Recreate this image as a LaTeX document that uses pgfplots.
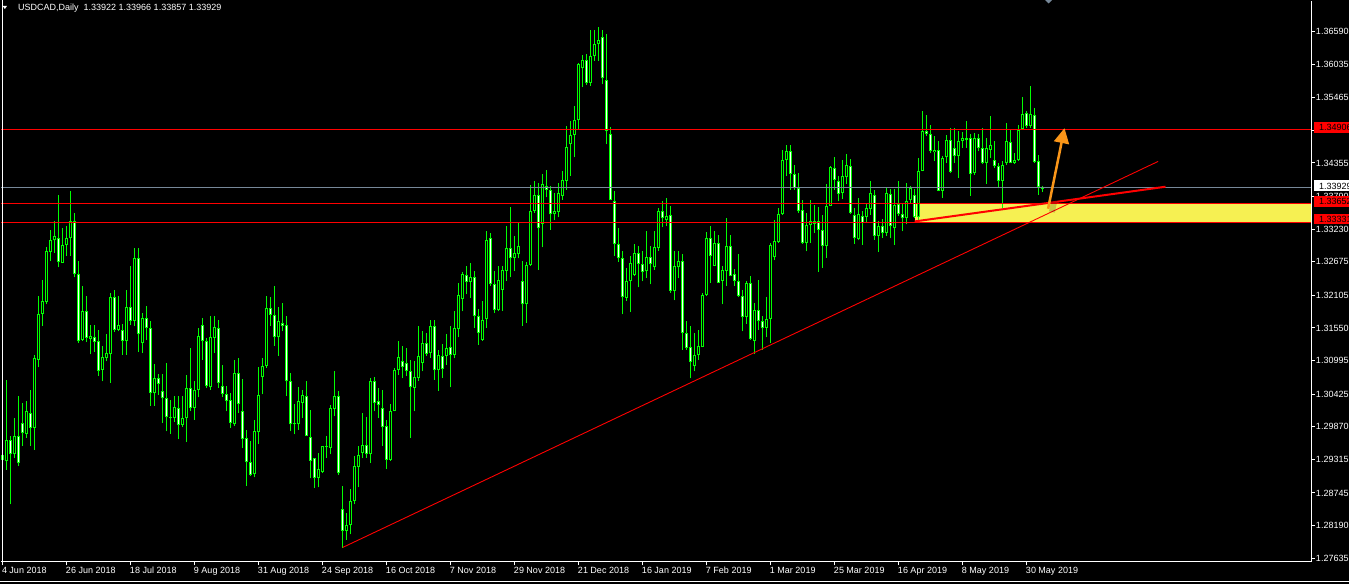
\documentclass[border=0pt]{standalone}
\usepackage{fontspec}
\setmainfont{Liberation Sans}
\usepackage{pgfplots}
\pgfplotsset{compat=1.18}
\usepackage{pgfplotstable}
\usetikzlibrary{arrows.meta}
\definecolor{candle}{RGB}{0,255,0}
\definecolor{slate}{RGB}{119,136,153}
\definecolor{band}{RGB}{246,240,82}
\definecolor{arrowc}{RGB}{250,150,25}

\pgfplotstableread{
i o h l c
1 1.2939 1.2965 1.2900 1.2931
2 1.2928 1.3067 1.2914 1.2965
3 1.2965 1.2971 1.2855 1.2940
4 1.2940 1.3001 1.2934 1.2971
5 1.2971 1.3039 1.2920 1.2925
6 1.2994 1.3027 1.2954 1.2976
7 1.2975 1.3030 1.2968 1.3013
8 1.3011 1.3050 1.2954 1.2985
9 1.2985 1.3109 1.2948 1.3103
10 1.3101 1.3209 1.3088 1.3179
11 1.3179 1.3237 1.3158 1.3200
12 1.3199 1.3292 1.3195 1.3285
13 1.3284 1.3321 1.3268 1.3305
14 1.3304 1.3336 1.3282 1.3312
15 1.3308 1.3381 1.3258 1.3267
16 1.3266 1.3324 1.3265 1.3296
17 1.3296 1.3329 1.3278 1.3307
18 1.3307 1.3387 1.3277 1.3337
19 1.3336 1.3351 1.3241 1.3246
20 1.3247 1.3269 1.3129 1.3132
21 1.3135 1.3226 1.3133 1.3184
22 1.3183 1.3209 1.3131 1.3138
23 1.3136 1.3160 1.3110 1.3141
24 1.3140 1.3160 1.3114 1.3131
25 1.3132 1.3151 1.3074 1.3082
26 1.3084 1.3124 1.3064 1.3105
27 1.3104 1.3145 1.3098 1.3113
28 1.3110 1.3215 1.3062 1.3207
29 1.3207 1.3219 1.3148 1.3152
30 1.3152 1.3209 1.3149 1.3160
31 1.3152 1.3162 1.3109 1.3133
32 1.3132 1.3219 1.3109 1.3190
33 1.3190 1.3260 1.3160 1.3167
34 1.3167 1.3290 1.3158 1.3273
35 1.3273 1.3290 1.3114 1.3144
36 1.3129 1.3180 1.3112 1.3171
37 1.3171 1.3192 1.3134 1.3154
38 1.3154 1.3166 1.3023 1.3044
39 1.3044 1.3093 1.3023 1.3070
40 1.3070 1.3077 1.3041 1.3060
41 1.3048 1.3077 1.2993 1.3035
42 1.3035 1.3096 1.2979 1.3003
43 1.3004 1.3032 1.2975 1.3001
44 1.3001 1.3039 1.2995 1.3021
45 1.3019 1.3039 1.2966 1.2990
46 1.2990 1.3039 1.2986 1.3002
47 1.3001 1.3075 1.2961 1.3052
48 1.3052 1.3120 1.3013 1.3019
49 1.3019 1.3064 1.2999 1.3050
50 1.3050 1.3155 1.3037 1.3142
51 1.3160 1.3172 1.3101 1.3133
52 1.3133 1.3138 1.3053 1.3056
53 1.3054 1.3175 1.3050 1.3140
54 1.3138 1.3175 1.3112 1.3157
55 1.3154 1.3169 1.3053 1.3061
56 1.3057 1.3092 1.3037 1.3043
57 1.3043 1.3057 1.3013 1.3031
58 1.3033 1.3044 1.2985 1.2993
59 1.2991 1.3100 1.2989 1.3079
60 1.3079 1.3103 1.3010 1.3025
61 1.3013 1.3068 1.2951 1.2966
62 1.2967 1.2981 1.2886 1.2927
63 1.2927 1.2962 1.2903 1.2905
64 1.2906 1.2999 1.2901 1.2980
65 1.2978 1.3088 1.2957 1.3041
66 1.3071 1.3103 1.3042 1.3091
67 1.3090 1.3209 1.3087 1.3188
68 1.3188 1.3207 1.3158 1.3177
69 1.3177 1.3226 1.3125 1.3139
70 1.3139 1.3190 1.3108 1.3166
71 1.3163 1.3198 1.3149 1.3159
72 1.3160 1.3175 1.3040 1.3064
73 1.3064 1.3078 1.2979 1.2991
74 1.2991 1.3025 1.2974 1.2993
75 1.2991 1.3054 1.2982 1.3031
76 1.3028 1.3049 1.3002 1.3041
77 1.3040 1.3064 1.2971 1.2972
78 1.2970 1.3015 1.2899 1.2929
79 1.2933 1.2933 1.2883 1.2900
80 1.2900 1.2942 1.2884 1.2915
81 1.2910 1.2955 1.2908 1.2955
82 1.2955 1.2972 1.2934 1.2952
83 1.2951 1.3024 1.2940 1.3018
84 1.3017 1.3081 1.3005 1.3040
85 1.3040 1.3047 1.2905 1.2908
86 1.2848 1.2887 1.2781 1.2810
87 1.2810 1.2840 1.2795 1.2820
88 1.2820 1.2882 1.2804 1.2861
89 1.2861 1.2937 1.2855 1.2920
90 1.2919 1.2955 1.2884 1.2939
91 1.2942 1.3010 1.2933 1.2956
92 1.2956 1.3003 1.2934 1.2940
93 1.2940 1.3070 1.2925 1.3065
94 1.3064 1.3071 1.3013 1.3027
95 1.3030 1.3052 1.3002 1.3024
96 1.3018 1.3050 1.2954 1.2986
97 1.2988 1.2998 1.2915 1.2931
98 1.2931 1.3025 1.2929 1.3014
99 1.3014 1.3087 1.3013 1.3084
100 1.3084 1.3132 1.3075 1.3105
101 1.3099 1.3125 1.3069 1.3088
102 1.3096 1.3121 1.3074 1.3082
103 1.3082 1.3101 1.2968 1.3054
104 1.3053 1.3098 1.3013 1.3071
105 1.3070 1.3159 1.3065 1.3107
106 1.3095 1.3149 1.3081 1.3130
107 1.3130 1.3147 1.3107 1.3111
108 1.3112 1.3169 1.3104 1.3159
109 1.3159 1.3169 1.3067 1.3083
110 1.3083 1.3117 1.3048 1.3109
111 1.3108 1.3128 1.3070 1.3085
112 1.3108 1.3144 1.3092 1.3120
113 1.3122 1.3159 1.3054 1.3109
114 1.3109 1.3183 1.3103 1.3154
115 1.3153 1.3232 1.3139 1.3211
116 1.3204 1.3250 1.3183 1.3247
117 1.3245 1.3261 1.3212 1.3233
118 1.3233 1.3265 1.3206 1.3241
119 1.3241 1.3251 1.3155 1.3175
120 1.3176 1.3187 1.3126 1.3146
121 1.3135 1.3201 1.3133 1.3169
122 1.3170 1.3319 1.3155 1.3305
123 1.3307 1.3316 1.3227 1.3229
124 1.3230 1.3251 1.3180 1.3185
125 1.3185 1.3260 1.3183 1.3237
126 1.3220 1.3261 1.3184 1.3253
127 1.3252 1.3329 1.3235 1.3290
128 1.3290 1.3360 1.3241 1.3273
129 1.3273 1.3312 1.3252 1.3282
130 1.3280 1.3333 1.3273 1.3295
131 1.3235 1.3268 1.3159 1.3195
132 1.3195 1.3267 1.3163 1.3262
133 1.3262 1.3398 1.3261 1.3354
134 1.3354 1.3404 1.3351 1.3381
135 1.3381 1.3401 1.3254 1.3324
136 1.3332 1.3417 1.3292 1.3400
137 1.3396 1.3424 1.3377 1.3390
138 1.3390 1.3397 1.3322 1.3348
139 1.3348 1.3384 1.3338 1.3353
140 1.3352 1.3401 1.3343 1.3384
141 1.3380 1.3421 1.3373 1.3407
142 1.3405 1.3498 1.3390 1.3462
143 1.3467 1.3507 1.3414 1.3483
144 1.3483 1.3532 1.3445 1.3509
145 1.3508 1.3605 1.3492 1.3603
146 1.3596 1.3619 1.3564 1.3611
147 1.3611 1.3620 1.3568 1.3571
148 1.3572 1.3662 1.3566 1.3618
149 1.3618 1.3662 1.3609 1.3638
150 1.3637 1.3666 1.3609 1.3645
151 1.3649 1.3662 1.3569 1.3579
152 1.3577 1.3655 1.3467 1.3489
153 1.3485 1.3496 1.3372 1.3373
154 1.3370 1.3388 1.3277 1.3297
155 1.3298 1.3324 1.3267 1.3273
156 1.3273 1.3285 1.3178 1.3207
157 1.3206 1.3257 1.3201 1.3235
158 1.3235 1.3278 1.3182 1.3266
159 1.3245 1.3298 1.3244 1.3283
160 1.3283 1.3294 1.3224 1.3264
161 1.3264 1.3285 1.3234 1.3250
162 1.3251 1.3319 1.3240 1.3276
163 1.3276 1.3294 1.3229 1.3263
164 1.3258 1.3319 1.3254 1.3293
165 1.3291 1.3359 1.3286 1.3353
166 1.3353 1.3371 1.3326 1.3342
167 1.3338 1.3375 1.3328 1.3346
168 1.3347 1.3362 1.3214 1.3218
169 1.3218 1.3286 1.3202 1.3261
170 1.3258 1.3285 1.3240 1.3268
171 1.3268 1.3281 1.3118 1.3146
172 1.3147 1.3166 1.3118 1.3121
173 1.3122 1.3158 1.3069 1.3097
174 1.3090 1.3146 1.3081 1.3109
175 1.3109 1.3152 1.3101 1.3125
176 1.3122 1.3215 1.3122 1.3211
177 1.3211 1.3318 1.3210 1.3307
178 1.3307 1.3329 1.3231 1.3277
179 1.3261 1.3319 1.3260 1.3300
180 1.3300 1.3313 1.3231 1.3232
181 1.3235 1.3260 1.3195 1.3254
182 1.3252 1.3341 1.3227 1.3294
183 1.3294 1.3313 1.3243 1.3244
184 1.3247 1.3255 1.3227 1.3235
185 1.3235 1.3281 1.3207 1.3210
186 1.3210 1.3219 1.3149 1.3173
187 1.3173 1.3234 1.3162 1.3231
188 1.3231 1.3243 1.3135 1.3136
189 1.3133 1.3197 1.3111 1.3186
190 1.3186 1.3236 1.3152 1.3167
191 1.3167 1.3176 1.3118 1.3155
192 1.3155 1.3207 1.3139 1.3170
193 1.3170 1.3299 1.3129 1.3296
194 1.3275 1.3338 1.3270 1.3303
195 1.3301 1.3359 1.3300 1.3349
196 1.3348 1.3457 1.3347 1.3441
197 1.3441 1.3466 1.3413 1.3455
198 1.3455 1.3466 1.3390 1.3417
199 1.3417 1.3432 1.3390 1.3393
200 1.3393 1.3418 1.3350 1.3353
201 1.3355 1.3372 1.3298 1.3299
202 1.3299 1.3351 1.3285 1.3330
203 1.3330 1.3372 1.3299 1.3337
204 1.3337 1.3364 1.3316 1.3332
205 1.3337 1.3360 1.3250 1.3322
206 1.3322 1.3347 1.3257 1.3295
207 1.3294 1.3400 1.3274 1.3363
208 1.3363 1.3430 1.3362 1.3428
209 1.3426 1.3445 1.3390 1.3407
210 1.3405 1.3413 1.3370 1.3383
211 1.3385 1.3440 1.3374 1.3413
212 1.3411 1.3451 1.3400 1.3432
213 1.3431 1.3442 1.3349 1.3350
214 1.3347 1.3359 1.3298 1.3307
215 1.3306 1.3375 1.3304 1.3349
216 1.3345 1.3353 1.3296 1.3334
217 1.3343 1.3368 1.3333 1.3358
218 1.3357 1.3404 1.3347 1.3384
219 1.3381 1.3389 1.3305 1.3312
220 1.3312 1.3336 1.3284 1.3329
221 1.3329 1.3340 1.3308 1.3316
222 1.3316 1.3394 1.3312 1.3384
223 1.3383 1.3391 1.3307 1.3329
224 1.3324 1.3391 1.3296 1.3364
225 1.3365 1.3404 1.3346 1.3349
226 1.3349 1.3365 1.3319 1.3341
227 1.3341 1.3401 1.3331 1.3371
228 1.3372 1.3396 1.3365 1.3392
229 1.3381 1.3391 1.3342 1.3343
230 1.3343 1.3443 1.3339 1.3422
231 1.3422 1.3523 1.3421 1.3490
232 1.3490 1.3517 1.3481 1.3484
233 1.3485 1.3500 1.3452 1.3455
234 1.3454 1.3481 1.3438 1.3458
235 1.3458 1.3472 1.3387 1.3388
236 1.3388 1.3447 1.3376 1.3444
237 1.3445 1.3483 1.3435 1.3475
238 1.3475 1.3495 1.3418 1.3420
239 1.3460 1.3494 1.3435 1.3447
240 1.3447 1.3489 1.3410 1.3473
241 1.3473 1.3488 1.3461 1.3477
242 1.3477 1.3506 1.3461 1.3474
243 1.3477 1.3484 1.3380 1.3417
244 1.3418 1.3486 1.3415 1.3477
245 1.3477 1.3484 1.3455 1.3461
246 1.3461 1.3495 1.3433 1.3436
247 1.3435 1.3478 1.3400 1.3460
248 1.3458 1.3515 1.3444 1.3466
249 1.3441 1.3472 1.3427 1.3430
250 1.3430 1.3435 1.3394 1.3405
251 1.3405 1.3438 1.3359 1.3432
252 1.3435 1.3503 1.3432 1.3473
253 1.3471 1.3492 1.3435 1.3436
254 1.3435 1.3453 1.3434 1.3441
255 1.3440 1.3500 1.3439 1.3492
256 1.3493 1.3547 1.3492 1.3519
257 1.3520 1.3523 1.3495 1.3498
258 1.3498 1.3566 1.3495 1.3519
259 1.3517 1.3528 1.3435 1.3437
260 1.3438 1.3449 1.3381 1.3394
261 1.33922 1.33966 1.33857 1.33929
}\candles

\begin{document}
\begin{tikzpicture}[x=1pt,y=1pt]
\useasboundingbox (0,0) rectangle (1349,584);
\fill[black] (0,0) rectangle (1349,584);
\begin{axis}[
  at={(2,37.5)}, anchor=south west, scale only axis,
  width=1310.5pt, height=560.5pt,
  xmin=0.625, xmax=328.25, ymin=1.275715, ymax=1.3710,
  axis x line*=bottom, axis y line*=right,
  axis line style={white, line width=1pt, -},
  tick align=outside, major tick length=3.5pt,
  tick style={white, line width=1pt},
  minor tick num=0,
  xtick={1,17,...,257},
  xticklabels={4 Jun 2018, 26 Jun 2018, 18 Jul 2018, 9 Aug 2018, 31 Aug 2018, 24 Sep 2018, 16 Oct 2018, 7 Nov 2018, 29 Nov 2018, 21 Dec 2018, 16 Jan 2019, 7 Feb 2019, 1 Mar 2019, 25 Mar 2019, 16 Apr 2019, 8 May 2019, 30 May 2019},
  ytick={1.36590,1.36035,1.35465,1.34910,1.34355,1.33790,1.33230,1.32675,1.32105,1.31550,1.30995,1.30425,1.29870,1.29315,1.28745,1.28190,1.27635},
  yticklabels={1.36590,1.36035,1.35465,,1.34355,1.33790,1.33230,1.32675,1.32105,1.31550,1.30995,1.30425,1.29870,1.29315,1.28745,1.28190,1.27635},
  every tick label/.append style={font=\fontsize{9}{10}\selectfont, text=white},
  xticklabel style={anchor=base west, inner sep=0pt, xshift=-0.5pt, yshift=-7.9pt},
  yticklabel style={anchor=west, inner sep=0pt, xshift=1pt},
  clip=false,
]
% yellow zone
\addplot[fill=band, draw=none, forget plot] coordinates {(229.25,1.33345) (328.25,1.33345) (328.25,1.33661) (229.25,1.33661)} -- cycle;
% wicks
\addplot[draw=none, mark=none, forget plot,
  error bars/.cd, y dir=plus, y explicit, error mark=none,
  error bar style={line width=1pt, draw=candle}]
  table[x=i, y=l, y error plus expr=\thisrow{h}-\thisrow{l}] {\candles};
% bodies
\addplot[draw=none, mark=none, forget plot,
  error bars/.cd, y dir=plus, y explicit, error mark=none,
  error bar style={line width=3pt, draw=candle}]
  table[x=i, y expr={min(\thisrow{o},\thisrow{c})}, y error plus expr={abs(\thisrow{c}-\thisrow{o})}] {\candles};
% bull centres (black fill)
\addplot[draw=none, mark=none, forget plot,
  error bars/.cd, y dir=plus, y explicit, error mark=none,
  error bar style={line width=0.9pt, draw=black}]
  table[x=i, y expr={\thisrow{o}+0.00017}, y error plus expr={max(\thisrow{c}-\thisrow{o}-0.00034,0)}] {\candles};
% bear centres (white fill)
\addplot[draw=none, mark=none, forget plot,
  error bars/.cd, y dir=plus, y explicit, error mark=none,
  error bar style={line width=0.65pt, draw=white}]
  table[x=i, y expr={\thisrow{c}+0.00017}, y error plus expr={max(\thisrow{o}-\thisrow{c}-0.00034,0)}] {\candles};
% level lines
\addplot[red, line width=1pt] coordinates {(0.625,1.34927) (328.25,1.34927)};
\addplot[slate, line width=1pt] coordinates {(0.625,1.33933) (328.25,1.33933)};
\addplot[red, line width=1pt] coordinates {(0.625,1.33661) (328.25,1.33661)};
\addplot[red, line width=1pt] coordinates {(0.625,1.33345) (328.25,1.33345)};
% trend lines
\addplot[red, line width=0.9pt] coordinates {(86.1,1.27818) (289.95,1.3438)};
\addplot[red, line width=2pt] coordinates {(229.1,1.3336) (291.8,1.3395)};
% arrow shadow and arrow
\addplot[black, opacity=0.18, line width=6pt] coordinates {(263.4,1.33520) (267.4,1.34800)};
\addplot[arrowc, line width=2.5pt, -{Triangle[length=15pt,width=15pt]}] coordinates {(262.45,1.33576) (266.55,1.34946)};
\end{axis}
% frame left
\draw[white, line width=1pt] (2,23.5) -- (2,584);
% bottom window line
\draw[white, line width=1.5pt] (0,2.3) -- (1349,2.3);
% title
\fill[white] (2.7,578) -- (7,578) -- (4.85,575) -- cycle;
\node[anchor=base west, inner sep=0pt, text=white, font=\fontsize{9}{10}\selectfont] at (18,573.8) {USDCAD,Daily\ \ 1.33922 1.33966 1.33857 1.33929};
% shift marker
\fill[slate] (1045,584) -- (1052,584) -- (1048.5,580.5) -- cycle;
% price boxes
\fill[red] (1313.5,450.7) rectangle (1349,462.3);
\node[anchor=west, inner sep=0pt, text=black, font=\fontsize{9}{10}\selectfont] at (1319,456.5) {1.34906};
\fill[white] (1313.5,392.5) rectangle (1349,403.5);
\node[anchor=west, inner sep=0pt, text=black, font=\fontsize{9}{10}\selectfont] at (1319,398) {1.33929};
\fill[red] (1313.5,377) rectangle (1349,388);
\node[anchor=west, inner sep=0pt, text=black, font=\fontsize{9}{10}\selectfont] at (1319,382.5) {1.33652};
\fill[red] (1313.5,359.5) rectangle (1349,370);
\node[anchor=west, inner sep=0pt, text=black, font=\fontsize{9}{10}\selectfont] at (1319,364.7) {1.33331};
\end{tikzpicture}
\end{document}
